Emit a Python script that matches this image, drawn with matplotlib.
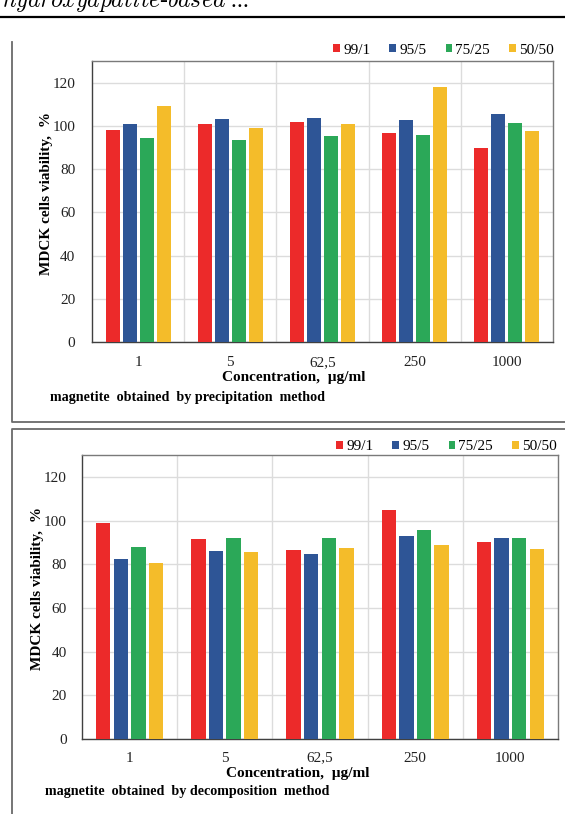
import matplotlib
matplotlib.use("Agg")
import matplotlib.pyplot as plt
from matplotlib.lines import Line2D
import numpy as np

# MDCK cell viability, % of control
concentrations = ["1", "5", "62,5", "250", "1000"]
ratios = ["99/1", "95/5", "75/25", "50/50"]

# magnetite obtained by precipitation
prec_99_1 = [98.2, 100.8, 101.7, 96.6, 89.7]
prec_95_5 = [100.8, 103.2, 103.7, 102.8, 105.5]
prec_75_25 = [94.3, 93.5, 95.1, 95.7, 101.5]
prec_50_50 = [109.2, 98.9, 100.8, 118.2, 97.8]

# magnetite obtained by decomposition
dec_99_1 = [98.9, 91.4, 86.4, 104.6, 90.2]
dec_95_5 = [82.6, 85.9, 84.7, 92.8, 91.9]
dec_75_25 = [87.8, 91.9, 92.1, 95.7, 91.9]
dec_50_50 = [80.4, 85.6, 87.3, 89.0, 87.0]

colors = ["#EC2A2A", "#2E5596", "#2BA858", "#F4BC2A"]

W, H = 565, 814
plt.rcParams["font.family"] = ["Liberation Serif", "DejaVu Serif"]
plt.rcParams["mathtext.fontset"] = "cm"

fig = plt.figure(figsize=(W / 100, H / 100), dpi=100)


def fx(x):
    return x / W


def fy(y):
    return 1 - y / H


def panel(box, series, ylab_x, xlab_xy, note_xy, note, legend_xy, ypad, xpad):
    left, top, right, bottom = box
    ax = fig.add_axes([fx(left), fy(bottom), fx(right - left), fy(top) - fy(bottom)])
    x = np.arange(len(concentrations))
    step = 0.185
    width = 0.152
    handles = []
    for i, vals in enumerate(series):
        b = ax.bar(x + (i - 1.5) * step, vals, width, color=colors[i], label=ratios[i], zorder=3)
        handles.append(b)
    ax.set_xlim(-0.5, len(concentrations) - 0.5)
    ax.set_ylim(0, 130)
    ax.set_yticks(range(0, 121, 20))
    ax.set_xticks(x)
    ax.set_xticklabels(concentrations)
    ax.tick_params(length=0, labelsize=11, colors="#222222")
    ax.tick_params(axis="y", pad=ypad)
    ax.tick_params(axis="x", pad=xpad)
    ax.grid(axis="y", color="#DCDCDC", lw=1, zorder=0)
    for b in np.arange(0.5, len(concentrations) - 0.5):
        ax.axvline(b, color="#DCDCDC", lw=1, zorder=0)
    for s in ax.spines.values():
        s.set_color("#7a7a7a")
        s.set_linewidth(1)
    ax.spines["bottom"].set_color("#404040")
    ax.spines["left"].set_color("#404040")

    fig.text(fx(ylab_x), fy((top + bottom) / 2 - 8), "MDCK cells viability,  %", rotation=90,
             ha="center", va="center", fontsize=11, fontweight="bold")
    fig.text(fx(xlab_xy[0]), fy(xlab_xy[1]), "Concentration,  \u00b5g/ml",
             ha="center", va="center", fontsize=11, fontweight="bold")
    fig.text(fx(note_xy[0]), fy(note_xy[1]), note, ha="left", va="center",
             fontsize=10.2, fontweight="bold")
    fig.legend(handles=handles, labels=ratios, ncol=4, frameon=False,
               loc="center right", bbox_to_anchor=(fx(legend_xy[0]), fy(legend_xy[1])),
               fontsize=11, handlelength=0.45, handleheight=0.45, handletextpad=0.2,
               columnspacing=1.25, borderaxespad=0, borderpad=0)
    return ax


panel((92, 61, 553, 342), [prec_99_1, prec_95_5, prec_75_25, prec_50_50],
      47, (294, 377), (50, 397), "magnetite  obtained  by precipitation  method",
      (554, 50), 12, 10)
panel((82, 455, 558, 739), [dec_99_1, dec_95_5, dec_75_25, dec_50_50],
      38, (298, 774), (45, 791), "magnetite  obtained  by decomposition  method",
      (557, 447), 11, 9)

# running header cut by the page edge
fig.text(fx(2), fy(7), r"$hydroxyapatite$-$based$ ...", fontsize=17, va="baseline", ha="left")
fig.add_artist(Line2D([0, 1], [fy(17), fy(17)], color="black", lw=1.6, transform=fig.transFigure))

# panel frames
frame = dict(color="#6a6a6a", lw=1.3, transform=fig.transFigure)
fig.add_artist(Line2D([fx(12), fx(12), fx(565)], [fy(42), fy(422), fy(422)], **frame))
fig.add_artist(Line2D([fx(565), fx(12), fx(12)], [fy(429), fy(429), fy(814)], **frame))

fig.savefig("out.png", dpi=100)
